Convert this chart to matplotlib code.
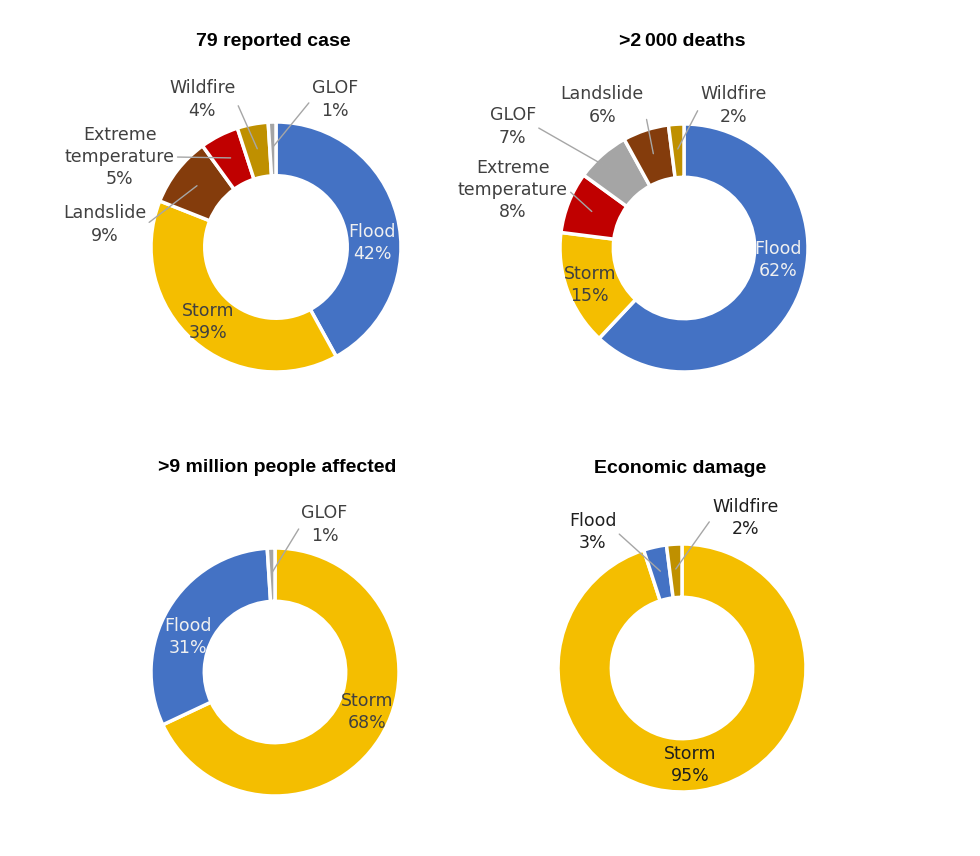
import matplotlib.pyplot as plt
import numpy as np

# colours per hazard
colors = {'Flood': '#4472C4', 'Storm': '#F4BE00', 'Landslide': '#843C0C',
          'Extreme temperature': '#C00000', 'Wildfire': '#BF9000', 'GLOF': '#A5A5A5'}

titles = ['79 reported case', '>2\u2009000 deaths', '>9 million people affected', 'Economic damage']

cases_cat = ['Flood', 'Storm', 'Landslide', 'Extreme temperature', 'Wildfire', 'GLOF']
cases_pct = [42, 39, 9, 5, 4, 1]

deaths_cat = ['Flood', 'Storm', 'Extreme temperature', 'GLOF', 'Landslide', 'Wildfire']
deaths_pct = [62, 15, 8, 7, 6, 2]

affected_cat = ['Storm', 'Flood', 'GLOF']
affected_pct = [68, 31, 1]

damage_cat = ['Storm', 'Flood', 'Wildfire']
damage_pct = [95, 3, 2]

# layout: centre (px from top-left), radius px, title position px
centers = [(276, 247), (684, 248), (275, 672), (682, 668)]
radii = [125, 124, 124, 124]
title_pos = [(273, 42), (682, 42), (277, 467), (680, 469)]

# label positions in radius units, relative to the centre
label_xy = [
    [(0.77, 0.03, 'in'), (-0.54, -0.60, 'in'), (-1.37, 0.18, 'out'), (-1.25, 0.72, 'out'), (-0.59, 1.18, 'out'), (0.47, 1.18, 'out')],
    [(0.76, -0.10, 'in'), (-0.76, -0.30, 'in'), (-1.38, 0.47, 'out'), (-1.38, 0.98, 'out'), (-0.66, 1.15, 'out'), (0.40, 1.15, 'out')],
    [(0.74, -0.32, 'in'), (-0.70, 0.28, 'in'), (0.40, 1.19, 'out')],
    [(0.065, -0.78, 'in'), (-0.72, 1.10, 'out'), (0.51, 1.21, 'out')],
]
text_colors = ['#404040', '#404040', '#404040', '#1F1F1F']

data = [(cases_cat, cases_pct), (deaths_cat, deaths_pct),
        (affected_cat, affected_pct), (damage_cat, damage_pct)]

W, H = 980, 856
fig = plt.figure(figsize=(W / 100, H / 100), dpi=100)

for i, (cats, pcts) in enumerate(data):
    cx, cy = centers[i]
    r = radii[i]
    half = 200
    ax = fig.add_axes([(cx - half) / W, (H - cy - half) / H, 2 * half / W, 2 * half / H])
    wedges, _ = ax.pie(pcts, colors=[colors[c] for c in cats], startangle=90,
                       counterclock=False, radius=1,
                       wedgeprops=dict(width=0.43, edgecolor='white', linewidth=2.5))
    ax.set_xlim(-half / r, half / r)
    ax.set_ylim(-half / r, half / r)
    ax.set_aspect('equal')
    ax.set_axis_off()

    for w, cat, p, (lx, ly, kind) in zip(wedges, cats, pcts, label_xy[i]):
        txt = cat.replace(' ', '\n') + '\n' + str(p) + '%'
        if kind == 'in':
            tc = '#F0F0F0' if cat == 'Flood' else text_colors[i]
            ax.text(lx, ly, txt, ha='center', va='center', fontsize=12.5,
                    color=tc, linespacing=1.3, family='DejaVu Sans')
        else:
            ang = np.deg2rad((w.theta1 + w.theta2) / 2)
            ax_ = 0.8 * np.cos(ang)
            ay_ = 0.8 * np.sin(ang)
            rel = (1, 0.5) if lx < ax_ else (0, 0.5)
            ax.annotate(txt, xy=(ax_, ay_), xytext=(lx, ly), ha='center', va='center',
                        fontsize=12.5, color=text_colors[i], linespacing=1.3,
                        family='DejaVu Sans',
                        arrowprops=dict(arrowstyle='-', color='#A6A6A6', lw=1,
                                        shrinkA=0, shrinkB=0, relpos=rel))

    tx, ty = title_pos[i]
    fig.text(tx / W, 1 - ty / H, titles[i], ha='center', va='center',
             fontsize=14, fontweight='bold', family='Liberation Sans', color='black')

fig.savefig('out.png', dpi=100, facecolor='white')
